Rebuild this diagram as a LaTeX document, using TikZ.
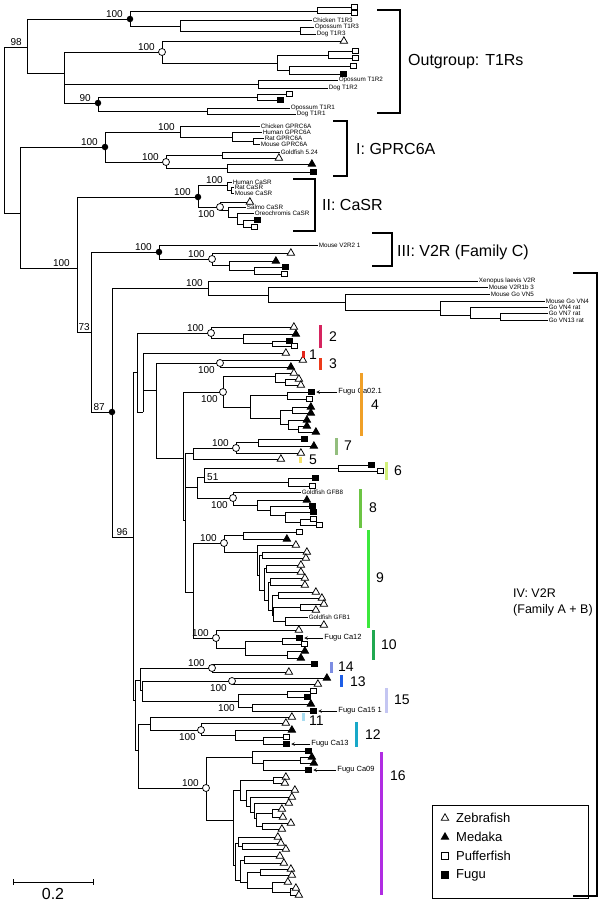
\documentclass[tikz,border=0pt]{standalone}
\usepackage{fontspec}
\setmainfont{Liberation Sans}
\usetikzlibrary{arrows,shapes.geometric,positioning}

\definecolor{clade1}{HTML}{E2261C}
\definecolor{clade2}{HTML}{D6245F}
\definecolor{clade3}{HTML}{EC3A1A}
\definecolor{clade4}{HTML}{F0A028}
\definecolor{clade5}{HTML}{F4E268}
\definecolor{clade6}{HTML}{D2F07A}
\definecolor{clade7}{HTML}{93BE7E}
\definecolor{clade8}{HTML}{6CC444}
\definecolor{clade9}{HTML}{3CE83C}
\definecolor{clade10}{HTML}{20A850}
\definecolor{clade11}{HTML}{A8DCF0}
\definecolor{clade12}{HTML}{18A8C8}
\definecolor{clade13}{HTML}{1E5EE6}
\definecolor{clade14}{HTML}{7C8CE2}
\definecolor{clade15}{HTML}{C4C6F2}
\definecolor{clade16}{HTML}{B02CE2}

\newcounter{lfc}
% internal node: name, parent, x, y
\newcommand{\nd}[4]{\coordinate (#1) at (#3,#4);\draw[br] (#2) |- (#1);}
% leaf with marker: parent, x, y, marker style
\newcommand{\lf}[4]{\stepcounter{lfc}\coordinate (lf\thelfc) at (#2,#3);\draw[br] (#1) |- (lf\thelfc);\node[#4,anchor=west] (mk\thelfc) at (lf\thelfc) {};}
% named leaf with marker: name, parent, x, y, marker style
\newcommand{\lfn}[5]{\coordinate (#1x) at (#3,#4);\draw[br] (#2) |- (#1x);\node[#5,anchor=west] (#1) at (#1x) {};}
% leaf with text: parent, x, y, text
\newcommand{\lft}[4]{\stepcounter{lfc}\coordinate (lf\thelfc) at (#2,#3);\draw[br] (#1) |- (lf\thelfc);\node[leaflab] (tx\thelfc) at (lf\thelfc) {#4};}
% bootstrap values above / below a node
\newcommand{\bsa}[3][7]{\node[bs,anchor=south east] at ([shift={(-#1,-1.5)}]#2) {#3};}
\newcommand{\bsb}[3][5]{\node[bs,anchor=north east] at ([shift={(-#1,3)}]#2) {#3};}

\begin{document}
\begin{tikzpicture}[x=1pt,y=-1pt,
    br/.style={line width=0.55pt},
    zf/.style={draw, regular polygon, regular polygon sides=3, minimum size=8.5pt, inner sep=0pt, line width=0.75pt, fill=white},
    md/.style={zf, fill=black},
    pf/.style={draw, rectangle, minimum size=5.5pt, inner sep=0pt, line width=0.75pt, fill=white},
    fg/.style={pf, fill=black},
    doto/.style={draw, circle, fill=white, minimum size=7pt, inner sep=0pt, line width=0.75pt},
    dotf/.style={circle, fill=black, minimum size=6.5pt, inner sep=0pt},
    bs/.style={font=\fontsize{10}{10}\selectfont, inner sep=0pt},
    leaflab/.style={anchor=west, font=\fontsize{6.3}{6.3}\selectfont, inner sep=0.6pt},
    fugulab/.style={font=\fontsize{7.5}{7.5}\selectfont, inner sep=0pt},
    cladenum/.style={font=\fontsize{14}{14}\selectfont, inner sep=0pt, anchor=west},
    grouplab/.style={font=\fontsize{16}{19}\selectfont, anchor=west, align=left, inner sep=0pt},
    legtext/.style={font=\fontsize{13}{13}\selectfont, inner sep=0pt},
    bracket/.style={line width=1.6pt},
    cbar/.style={line width=3pt}
  ]
\useasboundingbox (0,0) rectangle (600,906);

% Outgroup: T1Rs
\coordinate (root) at (4,130);
\nd{n98}{root}{27}{47}
\nd{t3}{n98}{130}{19}
\nd{t3a}{t3}{317}{11}
\lf{t3a}{351}{7}{pf}
\lf{t3a}{351}{13}{pf}
\nd{t3b}{t3}{180}{26}
\lft{t3b}{312}{20}{Chicken T1R3}
\nd{t3c}{t3b}{300}{31}
\lft{t3c}{314}{27}{Opossum T1R3}
\lft{t3c}{316}{34}{Dog T1R3}
\nd{nx}{n98}{64}{73}
\nd{t2}{nx}{162}{52}
\lf{t2}{341}{41}{zf}
\nd{t2a}{t2}{277}{63}
\nd{t2b}{t2a}{328}{55}
\lf{t2b}{352}{51}{pf}
\lf{t2b}{352}{58}{pf}
\nd{t2c}{t2a}{289}{70}
\lf{t2c}{350}{66}{pf}
\lf{t2c}{340}{74}{fg}
\nd{t2d}{nx}{258}{84}
\lft{t2d}{338}{80}{Opossum T1R2}
\lft{t2d}{328}{88}{Dog T1R2}
\nd{t1}{nx}{98}{103}
\nd{t1a}{t1}{257}{97}
\lf{t1a}{286}{94}{pf}
\lf{t1a}{277}{100}{fg}
\nd{t1b}{t1}{207}{111}
\lft{t1b}{290}{108}{Opossum T1R1}
\lft{t1b}{296}{114}{Dog T1R1}

% I: GPRC6A
\nd{na}{root}{20}{213}
\nd{g}{na}{105}{147}
\nd{g1}{g}{180}{132}
\lft{g1}{260}{126}{Chicken GPRC6A}
\nd{g2}{g1}{232}{137}
\lft{g2}{262}{132}{Human GPRC6A}
\nd{g3}{g2}{253}{141}
\lft{g3}{264}{138}{Rat GPRC6A}
\lft{g3}{260}{144}{Mouse GPRC6A}
\nd{g4}{g}{166}{162}
\nd{g5}{g4}{222}{155}
\lft{g5}{280}{152}{Goldfish 5.24}
\lf{g5}{276}{158}{zf}
\nd{g6}{g4}{227}{168}
\lf{g6}{309}{164}{md}
\lf{g6}{310}{172}{fg}

% II: CaSR
\nd{nb}{na}{77}{268}
\nd{cs}{nb}{198}{197}
\nd{cs1}{cs}{227}{185}
\lft{cs1}{232}{182}{Human CaSR}
\nd{cs2}{cs1}{231}{190}
\lft{cs2}{234}{187}{Rat CaSR}
\lft{cs2}{234}{193}{Mouse CaSR}
\nd{cs3}{cs}{220}{207}
\lf{cs3}{247}{202}{zf}
\nd{cs4}{cs3}{228}{210}
\lft{cs4}{246}{207}{Salmo CaSR}
\nd{cs5}{cs4}{237}{217}
\lft{cs5}{254}{213}{Oreochromis CaSR}
\nd{cs6}{cs5}{243}{224}
\lf{cs6}{254}{220}{fg}
\lf{cs6}{251}{227}{pf}

% III: V2R (Family C)
\nd{nc}{nb}{91}{332}
\nd{vc}{nc}{159}{252}
\lft{vc}{318}{245}{Mouse V2R2 1}
\nd{vc1}{vc}{212}{259}
\lf{vc1}{288}{253}{zf}
\nd{vc2}{vc1}{229}{265}
\lf{vc2}{273}{261}{md}
\nd{vc3}{vc2}{254}{270}
\lf{vc3}{282}{267}{fg}
\lf{vc3}{281}{274}{pf}

% IV: V2R (Family A + B)
\nd{nd}{nc}{112}{412}
\nd{xe}{nd}{208}{288}
\lft{xe}{478}{281}{Xenopus laevis V2R}
\nd{xe1}{xe}{268}{295}
\lft{xe1}{488}{287}{Mouse V2R1b 3}
\nd{xe2}{xe1}{345}{302}
\lft{xe2}{490}{294}{Mouse Go VN5}
\nd{xe3}{xe2}{440}{310}
\lft{xe3}{545}{301}{Mouse Go VN4}
\nd{xe4}{xe3}{470}{315}
\lft{xe4}{548}{307}{Go VN4 rat}
\nd{xe5}{xe4}{500}{318}
\lft{xe5}{548}{313}{Go VN7 rat}
\lft{xe5}{548}{320}{Go VN13 rat}

\nd{ne}{nd}{133}{537}
\nd{nf}{ne}{137}{372}
% clade 2
\nd{k2}{nf}{211}{333}
\lf{k2}{291}{327}{zf}
\nd{k2a}{k2}{243}{338}
\lf{k2a}{293}{334}{md}
\nd{k2b}{k2a}{272}{343}
\lf{k2b}{286}{341}{fg}
\lf{k2b}{291}{346}{pf}
% clades 1 and 3
\nd{nk}{nf}{143}{412}
\lf{nk}{283}{353}{zf}
\nd{nl}{nk}{156}{390}
\nd{k3}{nl}{220}{363}
\lf{k3}{300}{360}{zf}
\lf{k3}{288}{367}{md}
% clade 4
\nd{nm}{nl}{183}{458}
\nd{k4}{nm}{223}{392}
\nd{k4a}{k4}{275}{376}
\lf{k4a}{291}{373}{zf}
\nd{k4b}{k4a}{285}{382}
\lf{k4b}{296}{379}{zf}
\lf{k4b}{298}{385}{zf}
\nd{k4c}{k4}{250}{407}
\nd{k4d}{k4c}{287}{395}
\lfn{fca02}{k4d}{308}{392}{fg}
\lf{k4d}{306}{399}{pf}
\nd{k4e}{k4c}{280}{418}
\nd{k4f}{k4e}{292}{410}
\lf{k4f}{308}{407}{md}
\lf{k4f}{308}{413}{md}
\nd{k4g}{k4e}{288}{424}
\lf{k4g}{304}{420}{md}
\nd{k4h}{k4g}{298}{429}
\lf{k4h}{304}{426}{md}
\lf{k4h}{313}{432}{md}
% clades 7 and 5
\nd{nm2}{nm}{185}{520}
\nd{nq}{nm2}{193}{453}
\nd{k7}{nq}{236}{448}
\nd{k7a}{k7}{258}{442}
\lf{k7a}{301}{439}{fg}
\lf{k7a}{311}{446}{md}
\lf{k7}{298}{453}{zf}
\lf{nq}{278}{459}{zf}
% clade 6
\nd{nr}{nm2}{197}{487}
\nd{n51}{nr}{204}{477}
\nd{k6}{n51}{338}{468}
\lf{k6}{368}{465}{fg}
\lf{k6}{377}{471}{pf}
\nd{k6b}{n51}{288}{482}
\lf{k6b}{312}{478}{fg}
\lf{k6b}{309}{486}{pf}
% clade 8
\nd{k8}{nr}{233}{498}
\lft{k8}{301}{492}{Goldfish GFB8}
\nd{k8a}{k8}{257}{505}
\lf{k8a}{304}{500}{md}
\nd{k8b}{k8a}{270}{510}
\lf{k8b}{309}{506}{fg}
\nd{k8c}{k8b}{285}{515}
\lf{k8c}{310}{512}{fg}
\nd{k8d}{k8c}{300}{522}
\lf{k8d}{310}{519}{pf}
\lf{k8d}{316}{525}{pf}
% clade 9
\nd{np}{nm2}{193}{592}
\nd{k9}{np}{224}{543}
\nd{k9a}{k9}{243}{535}
\lf{k9a}{296}{532}{pf}
\lf{k9a}{284}{539}{md}
\nd{k9b}{k9}{257}{552}
\lf{k9b}{293}{545}{zf}
\nd{k9c}{k9b}{259}{575}
\nd{k9d}{k9c}{262}{555}
\lf{k9d}{304}{552}{zf}
\lf{k9d}{303}{558}{zf}
\nd{k9e}{k9c}{264}{590}
\nd{k9f}{k9e}{266}{568}
\lf{k9f}{298}{565}{zf}
\lf{k9f}{298}{572}{zf}
\nd{k9g}{k9e}{268}{600}
\nd{k9h}{k9g}{270}{582}
\lf{k9h}{302}{578}{zf}
\lf{k9h}{302}{585}{zf}
\nd{k9i}{k9g}{272}{610}
\nd{k9j}{k9i}{278}{595}
\lf{k9j}{313}{592}{zf}
\lf{k9j}{319}{598}{zf}
\nd{k9k}{k9i}{273}{615}
\nd{k9l}{k9k}{300}{607}
\lf{k9l}{321}{604}{zf}
\lf{k9l}{313}{610}{zf}
\nd{k9m}{k9k}{285}{621}
\lft{k9m}{308}{617}{Goldfish GFB1}
\lf{k9m}{321}{625}{zf}
% clade 10
\nd{k10}{np}{216}{638}
\lf{k10}{296}{630}{zf}
\nd{k10a}{k10}{245}{648}
\nd{k10b}{k10a}{282}{641}
\lfn{fca12}{k10b}{296}{638}{fg}
\lf{k10b}{301}{644}{pf}
\nd{k10c}{k10a}{287}{655}
\lf{k10c}{302}{651}{md}
\lf{k10c}{298}{658}{md}
% clades 14, 13, 15
\nd{nh}{ne}{135}{700}
\nd{nt}{nh}{140}{680}
\nd{k14}{nt}{212}{668}
\lf{k14}{311}{664}{fg}
\lf{k14}{286}{672}{zf}
\nd{nu}{nt}{142}{690}
\nd{k13}{nu}{232}{681}
\lf{k13}{324}{678}{md}
\lf{k13}{315}{684}{zf}
\nd{k15}{nu}{238}{701}
\nd{k15a}{k15}{287}{694}
\lf{k15a}{310}{691}{pf}
\lf{k15a}{304}{697}{fg}
\nd{k15b}{k15}{252}{707}
\lf{k15b}{308}{704}{md}
\lfn{fca15}{k15b}{310}{711}{fg}
% clades 11 and 12
\nd{nv}{nh}{138}{750}
\nd{nw}{nv}{150}{724}
\lf{nw}{289}{717}{zf}
\nd{k12}{nw}{201}{730}
\lf{k12}{283}{723}{zf}
\nd{k12a}{k12}{235}{735}
\lf{k12a}{289}{730}{md}
\nd{k12b}{k12a}{263}{740}
\lf{k12b}{283}{737}{pf}
\lfn{fca13}{k12b}{283}{744}{fg}
% clade 16
\nd{k16}{nv}{206}{788}
\nd{k16a}{k16}{252}{757}
\lf{k16a}{305}{751}{fg}
\nd{k16b}{k16a}{263}{763}
\nd{k16c}{k16b}{300}{760}
\lf{k16c}{309}{757}{md}
\lf{k16c}{311}{763}{md}
\lfn{fca09}{k16b}{305}{770}{fg}
\nd{k16d}{k16}{233}{820}
\nd{k16e}{k16d}{240}{790}
\nd{k16f}{k16e}{273}{780}
\lf{k16f}{283}{777}{zf}
\lf{k16f}{282}{783}{zf}
\nd{k16g}{k16e}{246}{800}
\lf{k16g}{292}{790}{zf}
\nd{k16h}{k16g}{250}{806}
\lf{k16h}{289}{797}{zf}
\nd{k16i}{k16h}{254}{812}
\lf{k16i}{286}{803}{zf}
\nd{k16j}{k16i}{256}{818}
\nd{k16k}{k16j}{272}{813}
\lf{k16k}{279}{809}{zf}
\lf{k16k}{280}{817}{zf}
\nd{k16l}{k16j}{262}{826}
\lf{k16l}{288}{823}{zf}
\lf{k16l}{279}{829}{zf}
\nd{k16p}{k16d}{235}{865}
\nd{k16q}{k16p}{238}{843}
\lf{k16q}{275}{837}{zf}
\nd{k16s}{k16q}{242}{846}
\lf{k16s}{278}{843}{zf}
\lf{k16s}{283}{849}{zf}
\nd{k16r}{k16p}{240}{880}
\nd{k16t}{k16r}{244}{860}
\lf{k16t}{277}{856}{zf}
\lf{k16t}{281}{863}{zf}
\nd{k16u}{k16r}{247}{882}
\nd{k16v}{k16u}{260}{872}
\lf{k16v}{288}{869}{zf}
\lf{k16v}{289}{875}{zf}
\nd{k16w}{k16u}{272}{888}
\lf{k16w}{285}{882}{zf}
\nd{k16x}{k16w}{290}{892}
\lf{k16x}{293}{888}{zf}
\lf{k16x}{296}{895}{zf}

% Node symbols
\foreach \n in {t3,t1,g,cs,vc,nd} \node[dotf] at (\n) {};
\foreach \n in {t2,g4,cs3,vc1,k2,k3,k4,k7,k8,k9,k10,k14,k13,k12,k16} \node[doto] at (\n) {};

% Bootstrap values
\bsa[5]{n98}{98}
\bsa{t3}{100}
\bsa{t2}{100}
\bsa{t1}{90}
\bsa{g}{100}
\bsa[5]{g1}{100}
\bsa{g4}{100}
\bsa{cs}{100}
\bsa[4]{cs1}{100}
\bsb{cs3}{100}
\bsa[7]{nb}{100}
\bsa{vc}{100}
\bsa{vc1}{100}
\bsa[1]{nc}{73}
\bsa[5]{xe}{100}
\bsa{nd}{87}
\bsa[5]{ne}{96}
\bsa{k2}{100}
\bsb{k3}{100}
\bsb{k4}{100}
\bsa{k7}{100}
\node[bs,anchor=west] at ([shift={(3,0)}]n51) {51};
\bsb{k8}{100}
\bsa{k9}{100}
\bsa{k10}{100}
\bsa{k14}{100}
\bsb{k13}{100}
\bsb[3]{k15}{100}
\bsb{k12}{100}
\bsa{k16}{100}

% Fugu labels
\node[fugulab, right=24pt of fca02] (lfca02) {Fugu Ca02.1};
\node[fugulab, right=22pt of fca12] (lfca12) {Fugu Ca12};
\node[fugulab, right=22pt of fca15] (lfca15) {Fugu Ca15 1};
\node[fugulab, right=22pt of fca13] (lfca13) {Fugu Ca13};
\node[fugulab, right=26pt of fca09] (lfca09) {Fugu Ca09};
\foreach \m in {fca02,fca12,fca15,fca13,fca09}
  \draw[-stealth, line width=0.6pt, shorten >=2pt, shorten <=1pt] (l\m.west) -- (\m.east);

% Clade bars
\draw[cbar, clade2] (320,325) -- (320,348);  \node[cladenum] (lab2) at (329,337) {2};
\draw[cbar, clade1] (303,351) -- (303,358);  \node[cladenum] (lab1) at (309,355) {1};
\draw[cbar, clade3] (320,358) -- (320,370);  \node[cladenum] (lab3) at (329,364) {3};
\draw[cbar, clade4] (361,373) -- (361,436);  \node[cladenum] (lab4) at (371,405) {4};
\draw[cbar, clade7] (336,438) -- (336,455);  \node[cladenum] (lab7) at (344,446) {7};
\draw[cbar, clade5] (300,457) -- (300,463);  \node[cladenum] (lab5) at (309,460) {5};
\draw[cbar, clade6] (386,462) -- (386,480);  \node[cladenum] (lab6) at (394,471) {6};
\draw[cbar, clade8] (360,489) -- (360,528);  \node[cladenum] (lab8) at (369,508) {8};
\draw[cbar, clade9] (368,530) -- (368,628);  \node[cladenum] (lab9) at (376,578) {9};
\draw[cbar, clade10] (373,630) -- (373,660); \node[cladenum] (lab10) at (381,645) {10};
\draw[cbar, clade14] (331,662) -- (331,673); \node[cladenum] (lab14) at (338,667) {14};
\draw[cbar, clade13] (341,675) -- (341,687); \node[cladenum] (lab13) at (350,682) {13};
\draw[cbar, clade15] (386,688) -- (386,713); \node[cladenum] (lab15) at (394,700) {15};
\draw[cbar, clade11] (303,713) -- (303,721); \node[cladenum] (lab11) at (309,721) {11};
\draw[cbar, clade12] (356,722) -- (356,747); \node[cladenum] (lab12) at (365,735) {12};
\draw[cbar, clade16] (381,752) -- (381,895); \node[cladenum] (lab16) at (390,776) {16};

% Group brackets
\draw[bracket] (377,10) -- (400,10) -- (400,113) -- (377,113);
\node[grouplab] (grpO) at (408,62) {Outgroup: T1Rs};
\draw[bracket] (333,121) -- (347,121) -- (347,176) -- (333,176);
\node[grouplab] (grpI) at (356,149) {I: GPRC6A};
\draw[bracket] (293,179) -- (315,179) -- (315,231) -- (293,231);
\node[grouplab] (grpII) at (322,205) {II: CaSR};
\draw[bracket] (372,233) -- (392,233) -- (392,266) -- (372,266);
\node[grouplab] (grpIII) at (397,252) {III: V2R (Family C)};
\draw[bracket] (573,273) -- (597,273) -- (597,896) -- (573,896);
\node[grouplab, font=\fontsize{12.5}{16}\selectfont] (grpIV) at (513,602) {IV: V2R\\(Family A + B)};

% Legend
\node[draw, line width=0.6pt, minimum width=156pt, minimum height=93pt, anchor=north west, inner sep=0pt] (legend) at (432,805) {};
\node[zf] (lgz) at (445,818) {};
\node[legtext, anchor=west] (lgzt) at (456,818) {Zebrafish};
\node[md] (lgm) at (445,837) {};
\node[legtext, anchor=west] (lgmt) at (456,837) {Medaka};
\node[pf, minimum size=7pt] (lgp) at (445,856) {};
\node[legtext, anchor=west] (lgpt) at (456,856) {Pufferfish};
\node[fg, minimum size=7pt] (lgf) at (445,875) {};
\node[legtext, anchor=west] (lgft) at (456,875) {Fugu};

% Scale bar
\draw[line width=0.7pt] (13,879) -- (13,885) (13,882) -- (93,882) (93,879) -- (93,885);
\node[legtext, font=\fontsize{16}{16}\selectfont] (scale) at (53,894) {0.2};
\end{tikzpicture}
\end{document}
